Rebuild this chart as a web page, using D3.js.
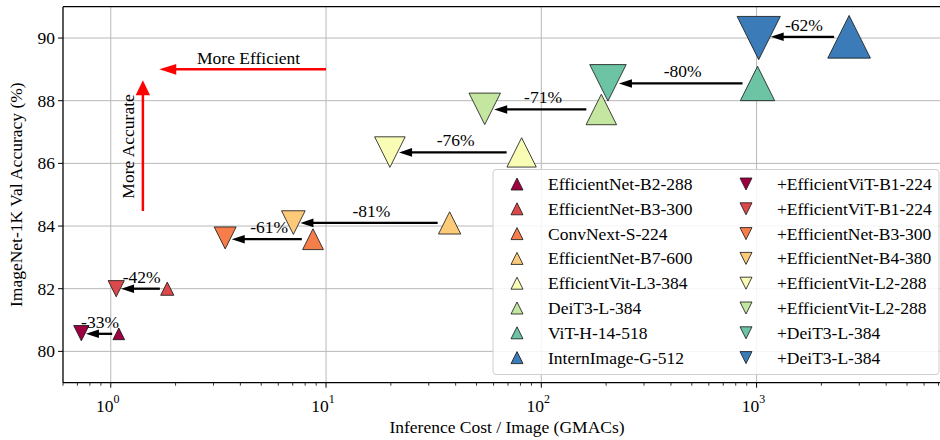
<!DOCTYPE html>
<html lang="en">
<head>
<meta charset="UTF-8">
<title>Cascade efficiency</title>
<script src="https://d3js.org/d3.v7.min.js"></script>
<style>
  body { margin: 0; background: #fff; }
  svg { display: block; }
  svg text { font-family: 'Liberation Serif', 'Times New Roman', serif; }
</style>
</head>
<body>
<div id="chart"></div>
<script>
// --- Data ---
const baseNames = ["EfficientNet-B2-288", "EfficientNet-B3-300", "ConvNext-S-224", "EfficientNet-B7-600",
                   "EfficientVit-L3-384", "DeiT3-L-384", "ViT-H-14-518", "InternImage-G-512"];
const oursNames = ["+EfficientViT-B1-224", "+EfficientViT-B1-224", "+EfficientNet-B3-300", "+EfficientNet-B4-380",
                   "+EfficientVit-L2-288", "+EfficientVit-L2-288", "+DeiT3-L-384", "+DeiT3-L-384"];
const baseGmacs = [1.09, 1.83, 8.7, 37.5, 81, 190, 1010, 2690];
const baseAcc   = [80.56, 82.0, 83.58, 84.1, 86.35, 87.72, 88.55, 90.04];
const oursGmacs = [0.73, 1.06, 3.4, 7.05, 19.8, 54.6, 204, 1023];
const oursAcc   = [80.58, 82.0, 83.62, 84.11, 86.36, 87.74, 88.57, 90.0];
// parameter counts (M) -> marker size
const baseParams = [9.1, 12, 50, 66, 246, 304, 632, 3000];
const oursParams = [18, 21, 62, 85, 310, 368, 936, 3304];
const savings = [33, 42, 61, 81, 76, 71, 80, 62];
const yTicks = [80, 82, 84, 86, 88, 90];
const xDecades = [0, 1, 2, 3];

// guide arrows, in data units
const effArrow = { from: [10, 89.0], to: [1.68, 89.0], label: "More Efficient", at: [4.37, 89.18] };
const accArrow = { from: [1.41, 84.48], to: [1.41, 88.65], label: "More Accurate", at: [1.28, 86.54] };

const colors = ["#9e0142", "#dc494c", "#f67e4b", "#fdca79", "#f8fcb4", "#c4e6a0", "#6cc4a5", "#3a7bb8"];

// --- Layout ---
const W = 940, H = 440;
const L = 63, R = 951, T = 6.7, B = 382.7;
const fs = 17.5;
const serif = "'Liberation Serif', 'Times New Roman', serif";

const svg = d3.select("#chart").append("svg").attr("width", W).attr("height", H);

const x = d3.scaleLog().domain([0.6, 8000]).range([L, R]);
const y = d3.scaleLinear().domain([79, 91]).range([B, T]);
const size = d3.scaleLog().domain([9.1, 3000]).range([11.7, 42.7]);

const tri = (s, up) => up
  ? `M0,${-s / 2}L${s / 2},${s / 2}L${-s / 2},${s / 2}Z`
  : `M0,${s / 2}L${s / 2},${-s / 2}L${-s / 2},${-s / 2}Z`;

// grid
const grid = svg.append("g").attr("stroke", "#b8b8b8").attr("stroke-width", 1);
yTicks.forEach(t => grid.append("line").attr("x1", L).attr("x2", R).attr("y1", y(t)).attr("y2", y(t)));
xDecades.forEach(d => grid.append("line").attr("x1", x(10 ** d)).attr("x2", x(10 ** d)).attr("y1", T).attr("y2", B));

// markers: ours (down) first, then baselines (up)
svg.append("g").selectAll("path").data(oursGmacs).join("path")
  .attr("transform", (d, i) => `translate(${x(d)},${y(oursAcc[i])})`)
  .attr("d", (d, i) => tri(size(oursParams[i]), false))
  .attr("fill", (d, i) => colors[i]).attr("stroke", "#111").attr("stroke-width", 0.8);

svg.append("g").selectAll("path").data(baseGmacs).join("path")
  .attr("transform", (d, i) => `translate(${x(d)},${y(baseAcc[i])})`)
  .attr("d", (d, i) => tri(size(baseParams[i]), true))
  .attr("fill", (d, i) => colors[i]).attr("stroke", "#111").attr("stroke-width", 0.8);

// saving arrows
function arrow(g, x1, y1, x2, y2, color, lw, hl, hw) {
  const dx = x2 - x1, dy = y2 - y1, len = Math.hypot(dx, dy);
  const ux = dx / len, uy = dy / len;
  const bx = x2 - ux * hl, by = y2 - uy * hl;
  g.append("line").attr("x1", x1).attr("y1", y1).attr("x2", bx + ux * 1).attr("y2", by + uy * 1)
    .attr("stroke", color).attr("stroke-width", lw);
  g.append("path")
    .attr("d", `M${x2},${y2}L${bx - uy * hw},${by + ux * hw}L${bx + uy * hw},${by - ux * hw}Z`)
    .attr("fill", color);
}

const ann = svg.append("g");
baseGmacs.forEach((b, i) => {
  const bx = x(b), ox = x(oursGmacs[i]), yy = y(baseAcc[i]);
  const sb = size(baseParams[i]), so = size(oursParams[i]);
  const tail = bx - Math.min(sb / 2 + 0.8, 15);
  const head = ox + Math.min(so * 0.3, 12);
  arrow(ann, tail, yy, head, yy, "#000", 2.3, 13, 4.3);
  ann.append("text").attr("x", (bx + ox) / 2).attr("y", yy - 6)
    .attr("text-anchor", "middle").attr("font-family", serif).attr("font-size", fs)
    .text(`-${savings[i]}%`);
});

// red guides
arrow(svg, x(effArrow.from[0]), y(effArrow.from[1]), x(effArrow.to[0]), y(effArrow.to[1]), "#ff0000", 2.5, 17, 5.4);
arrow(svg, x(accArrow.from[0]), y(accArrow.from[1]), x(accArrow.to[0]), y(accArrow.to[1]), "#ff0000", 2.5, 15, 7.2);
svg.append("text").attr("x", x(effArrow.at[0])).attr("y", y(effArrow.at[1]))
  .attr("text-anchor", "middle").attr("font-size", fs).text(effArrow.label);
svg.append("text").attr("transform", `translate(${x(accArrow.at[0])},${y(accArrow.at[1])}) rotate(-90)`)
  .attr("text-anchor", "middle").attr("font-size", fs).text(accArrow.label);

// legend
const lg = svg.append("g");
lg.append("rect").attr("x", 493).attr("y", 169.5).attr("width", 446).attr("height", 205).attr("rx", 3)
  .attr("fill", "#fff").attr("fill-opacity", 0.85).attr("stroke", "#cfcfcf").attr("stroke-width", 1);
const rowY = i => 184 + i * 24.8;
baseNames.forEach((n, i) => {
  lg.append("path").attr("transform", `translate(517,${rowY(i)})`).attr("d", tri(12, true))
    .attr("fill", colors[i]).attr("stroke", "#111").attr("stroke-width", 0.8);
  lg.append("text").attr("x", 548).attr("y", rowY(i) + 6).attr("font-size", fs).text(n);
  lg.append("path").attr("transform", `translate(746,${rowY(i)})`).attr("d", tri(12, false))
    .attr("fill", colors[i]).attr("stroke", "#111").attr("stroke-width", 0.8);
  lg.append("text").attr("x", 777).attr("y", rowY(i) + 6).attr("font-size", fs).text(oursNames[i]);
});

// axes
const ax = svg.append("g").attr("stroke", "#000");
ax.append("line").attr("x1", L).attr("x2", R).attr("y1", B).attr("y2", B).attr("stroke-width", 1.3);
ax.append("line").attr("x1", L).attr("x2", R).attr("y1", T).attr("y2", T).attr("stroke-width", 1.3);
ax.append("line").attr("x1", L).attr("x2", L).attr("y1", T).attr("y2", B).attr("stroke-width", 1.3);

yTicks.forEach(t => {
  ax.append("line").attr("x1", L - 5).attr("x2", L).attr("y1", y(t)).attr("y2", y(t)).attr("stroke-width", 1);
  svg.append("text").attr("x", L - 8).attr("y", y(t)).attr("dy", "0.35em")
    .attr("text-anchor", "end").attr("font-size", fs).text(t);
});

x.ticks().forEach(t => {
  const major = xDecades.some(d => Math.abs(t - 10 ** d) < 1e-9);
  ax.append("line").attr("x1", x(t)).attr("x2", x(t)).attr("y1", B).attr("y2", B + (major ? 5 : 3))
    .attr("stroke-width", major ? 1 : 0.8);
});
xDecades.forEach(d => {
  const t = svg.append("text").attr("x", x(10 ** d) - 3).attr("y", 411.5)
    .attr("text-anchor", "middle").attr("font-size", fs);
  t.append("tspan").text("10");
  t.append("tspan").attr("dy", -9).attr("font-size", 12).text(d);
});

svg.append("text").attr("x", (L + R) / 2).attr("y", 433).attr("text-anchor", "middle")
  .attr("font-size", fs).text("Inference Cost / Image (GMACs)");
svg.append("text").attr("transform", `translate(22,${(T + B) / 2}) rotate(-90)`).attr("text-anchor", "middle")
  .attr("font-size", fs).text("ImageNet-1K Val Accuracy (%)");
</script>
</body>
</html>
